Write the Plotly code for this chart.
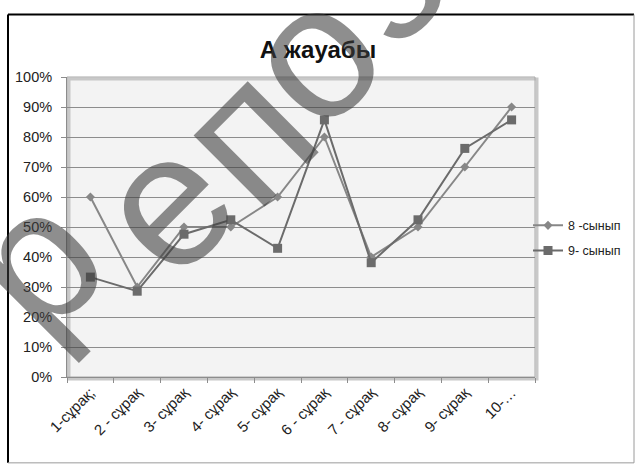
import plotly.graph_objects as go

# Question labels along the x axis
questions = ["1-сұрақ;", "2 - сұрақ", "3- сұрақ", "4- сұрақ", "5- сұрақ",
             "6 - сұрақ", "7 - сұрақ", "8- сұрақ", "9- сұрақ", "10-…"]

# Share of correct "A" answers, percent
grade8 = [60, 30, 50, 50, 60, 80, 40, 50, 70, 90]
grade9 = [33.3, 28.6, 47.6, 52.4, 42.9, 85.7, 38.1, 52.4, 76.2, 85.7]

series_names = ["8 -сынып", "9- сынып"]
y_ticks = [0, 10, 20, 30, 40, 50, 60, 70, 80, 90, 100]
y_tick_text = [f"{v}%" for v in y_ticks]

W, H = 640, 469
L, R, T, B = 67, 535, 76.5, 377   # plot area in pixels


def px(x):
    return (x - L) / (R - L)


def py(y):
    return (B - y) / (B - T)


FONT = "Liberation Sans"
WM_FONT = "Liberation Sans Narrow, Liberation Sans"

fig = go.Figure()
fig.add_trace(go.Scatter(
    x=questions, y=grade8, name=series_names[0], mode="lines+markers",
    legendgroup="g8",
    line=dict(color="#878787", width=2),
    marker=dict(symbol="diamond", size=7, color="#878787"),
))
fig.add_trace(go.Scatter(
    x=questions, y=grade9, name=series_names[1], mode="lines+markers",
    legendgroup="g9",
    line=dict(color="#6b6b6b", width=2),
    marker=dict(symbol="square", size=9, color="#6b6b6b"),
))

shapes = [
    # plot area shadow and border
    dict(type="rect", xref="paper", yref="paper", x0=px(L + 2), x1=px(R + 2),
         y0=py(B + 2), y1=py(T + 2), line=dict(color="#c8c8c8", width=3), layer="below"),
    dict(type="rect", xref="paper", yref="paper", x0=0, x1=1, y0=0, y1=1,
         line=dict(color="#a8a8a8", width=1), layer="below"),
    # outer chart frame
    dict(type="line", xref="paper", yref="paper", x0=px(8), x1=px(8),
         y0=py(14), y1=py(463), line=dict(color="#000000", width=2)),
    dict(type="line", xref="paper", yref="paper", x0=px(8), x1=px(634),
         y0=py(14), y1=py(14), line=dict(color="#000000", width=2)),
    dict(type="line", xref="paper", yref="paper", x0=px(634), x1=px(634),
         y0=py(14), y1=py(463), line=dict(color="#9a9a9a", width=1)),
    dict(type="line", xref="paper", yref="paper", x0=px(8), x1=px(634),
         y0=py(463), y1=py(463), line=dict(color="#9a9a9a", width=1)),
]

# translucent watermark letters, each placed by its glyph centre
wm_letters = ["р", "е", "п", "о", "з"]
wm_centers = [(27, 254), (158, 196), (239, 127), (305, 47), (373, -31)]
WM_SIZE = 190
annotations = []
for ch, (cx, cy) in zip(wm_letters, wm_centers):
    annotations.append(dict(
        text=ch, xref="paper", yref="paper", x=px(cx + 6), y=py(cy + 6),
        xanchor="center", yanchor="middle", showarrow=False, textangle=-45,
        font=dict(family=WM_FONT, size=WM_SIZE, color="rgba(60,60,60,0.58)"),
    ))

fig.update_layout(
    width=W, height=H, autosize=False,
    margin=dict(l=L, r=W - R, t=T, b=H - B, pad=0),
    paper_bgcolor="#ffffff", plot_bgcolor="#f3f3f3",
    title=dict(text="<b>А жауабы</b>", x=318 / W, xanchor="center",
               y=1 - 50 / H, yanchor="middle",
               font=dict(family=FONT, size=24, color="#111111")),
    font=dict(family=FONT, size=13, color="#222222"),
    showlegend=True,
    legend=dict(x=px(528), y=py(238), xanchor="left", yanchor="middle",
                bgcolor="rgba(0,0,0,0)", font=dict(family=FONT, size=12.5, color="#222222"),
                itemwidth=30, traceorder="grouped", tracegroupgap=6),
    shapes=shapes, annotations=annotations,
)

fig.update_xaxes(
    type="category", tickangle=-45, tickson="boundaries",
    ticks="outside", ticklen=5, tickcolor="#8c8c8c",
    showline=True, linecolor="#8c8c8c", linewidth=1,
    showgrid=False, tickfont=dict(family=FONT, size=15, color="#222222"),
    range=[-0.5, 9.5],
)
fig.update_yaxes(
    range=[0, 100], tickmode="array", tickvals=y_ticks, ticktext=y_tick_text,
    ticks="outside", ticklen=5, tickcolor="#8c8c8c",
    showline=True, linecolor="#8c8c8c", linewidth=1,
    showgrid=True, gridcolor="#8c8c8c", gridwidth=1,
    zeroline=False, tickfont=dict(family=FONT, size=14.5, color="#222222"),
    ticklabelstandoff=6,
)

fig.write_html("out.html")
